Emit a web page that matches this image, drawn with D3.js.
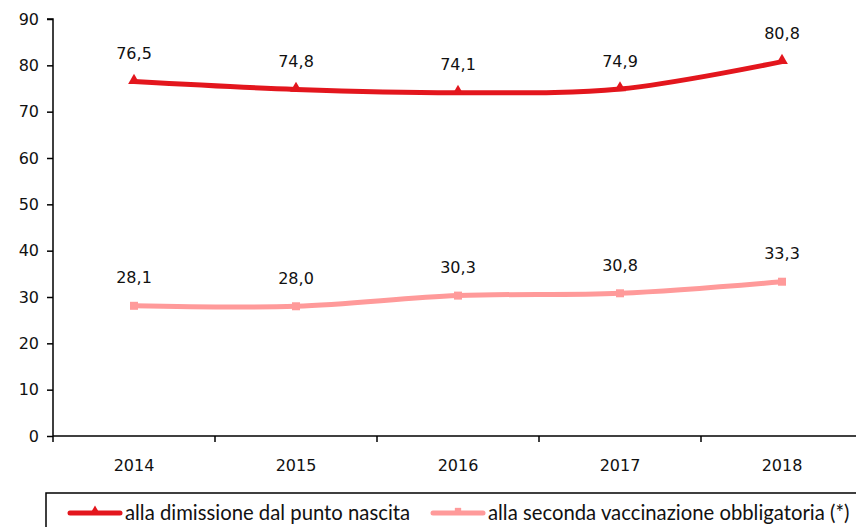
<!DOCTYPE html>
<html>
<head>
<meta charset="utf-8">
<script src="https://cdn.jsdelivr.net/npm/d3@7"></script>
<style>
  html, body { margin: 0; padding: 0; background: #fff; }
  svg { display: block; }
</style>
</head>
<body>
<svg id="chart" width="856" height="527"></svg>
<script>
// Anni e serie
const years = ["2014", "2015", "2016", "2017", "2018"];
const dimissione = [76.5, 74.8, 74.1, 74.9, 80.8];
const secondaVacc = [28.1, 28.0, 30.3, 30.8, 33.3];
const seriesNames = ["alla dimissione dal punto nascita", "alla seconda vaccinazione obbligatoria (*)"];
const yTicks = [0, 10, 20, 30, 40, 50, 60, 70, 80, 90];

const svg = d3.select("#chart");
const W = 856, H = 527;
const margin = { left: 53, top: 19, bottom: 91 };
const plotRight = 863;

const x = d3.scaleBand().domain(years).range([margin.left, plotRight]);
const y = d3.scaleLinear().domain([0, 90]).range([H - margin.bottom, margin.top]);

const numFont = "'DejaVu Sans', Verdana, sans-serif";
const fmt = v => v.toFixed(1).replace(".", ",");

// Asse Y
const yAxis = svg.append("g")
  .attr("transform", `translate(${margin.left},0)`)
  .call(d3.axisLeft(y).tickValues(yTicks).tickSize(6).tickPadding(8).tickFormat(d => d));
yAxis.select(".domain").attr("stroke", "#000").attr("stroke-width", 1.5).attr("d", `M-6,${y(90)}H0V${y(0)}`);
yAxis.selectAll(".tick line").attr("stroke", "#000").attr("stroke-width", 1.5);
yAxis.selectAll(".tick text").attr("font-family", numFont).attr("font-size", 16).attr("fill", "#111");

// Asse X con tacche ai bordi delle categorie
const xAxis = svg.append("g").attr("transform", `translate(0,${y(0)})`);
xAxis.append("line").attr("x1", margin.left).attr("x2", W).attr("y1", 0).attr("y2", 0)
  .attr("stroke", "#000").attr("stroke-width", 1.5);
const bounds = years.map(d => x(d)).concat([x(years[years.length - 1]) + x.bandwidth()]);
xAxis.selectAll(".xt").data(bounds).join("line").attr("class", "xt")
  .attr("x1", d => d).attr("x2", d => d).attr("y1", 0).attr("y2", 6)
  .attr("stroke", "#000").attr("stroke-width", 1.5);
xAxis.selectAll(".xl").data(years).join("text").attr("class", "xl")
  .attr("x", d => x(d) + x.bandwidth() / 2).attr("y", 35)
  .attr("text-anchor", "middle").attr("font-family", numFont).attr("font-size", 16)
  .attr("fill", "#111").text(d => d);

const cx = d => x(d) + x.bandwidth() / 2;
const series = [
  { name: seriesNames[0], values: dimissione, color: "#E3161D", marker: "triangle" },
  { name: seriesNames[1], values: secondaVacc, color: "#FF9A9A", marker: "square" }
];

const line = d3.line().curve(d3.curveCatmullRom.alpha(0.5))
  .x((v, i) => cx(years[i])).y(v => y(v));

series.forEach(s => {
  svg.append("path").datum(s.values).attr("d", line)
    .attr("fill", "none").attr("stroke", s.color).attr("stroke-width", 5)
    .attr("stroke-linecap", "round");
  const sym = d3.symbol().type(s.marker === "triangle" ? d3.symbolTriangle : d3.symbolSquare)
    .size(s.marker === "triangle" ? 60 : 64);
  svg.selectAll(null).data(s.values).join("path")
    .attr("transform", (v, i) => `translate(${cx(years[i])},${y(v) - (s.marker === "triangle" ? 1 : 0)})`)
    .attr("d", sym).attr("fill", s.color);
  svg.selectAll(null).data(s.values).join("text")
    .attr("x", (v, i) => cx(years[i])).attr("y", v => y(v) - 28)
    .attr("dy", "0.35em").attr("text-anchor", "middle")
    .attr("font-family", numFont).attr("font-size", 16).attr("fill", "#111")
    .text(fmt);
});

// Legenda
const legFont = "Lato, 'Open Sans', sans-serif";
const leg = svg.append("g");
leg.append("rect").attr("x", 46).attr("y", 493).attr("width", 830).attr("height", 60)
  .attr("fill", "none").attr("stroke", "#000").attr("stroke-width", 1.5);
const legItems = [
  { s: series[0], lx: 70, tx: 125 },
  { s: series[1], lx: 433, tx: 488 }
];
legItems.forEach(it => {
  leg.append("line").attr("x1", it.lx).attr("x2", it.lx + 50).attr("y1", 513).attr("y2", 513)
    .attr("stroke", it.s.color).attr("stroke-width", 5).attr("stroke-linecap", "round");
  const sym = d3.symbol().type(it.s.marker === "triangle" ? d3.symbolTriangle : d3.symbolSquare).size(40);
  leg.append("path").attr("transform", `translate(${it.lx + 25},${511})`).attr("d", sym).attr("fill", it.s.color);
  leg.append("text").attr("x", it.tx).attr("y", 513).attr("dy", "0.35em")
    .attr("font-family", legFont).attr("font-size", 20.3).attr("fill", "#111").text(it.s.name);
});
</script>
</body>
</html>
